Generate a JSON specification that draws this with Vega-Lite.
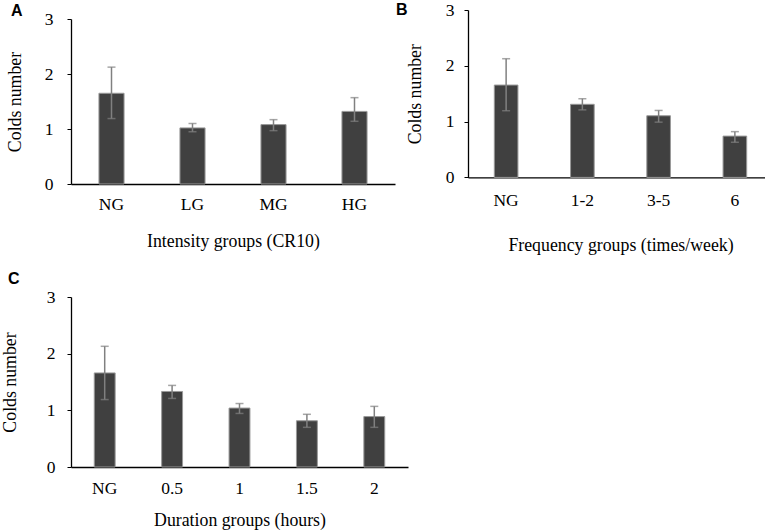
{
  "$schema": "https://vega.github.io/schema/vega-lite/v6.json",
  "padding": {"left": 1, "top": 1, "right": 0, "bottom": 0},
  "background": "white",
  "datasets": {
    "intensity": [
      {"group": "NG", "mean": 1.65, "lo": 1.19, "hi": 2.125},
      {"group": "LG", "mean": 1.02, "lo": 0.95, "hi": 1.1},
      {"group": "MG", "mean": 1.08, "lo": 0.97, "hi": 1.17},
      {"group": "HG", "mean": 1.32, "lo": 1.14, "hi": 1.57}
    ],
    "frequency": [
      {"group": "NG", "mean": 1.655, "lo": 1.195, "hi": 2.127},
      {"group": "1-2", "mean": 1.31, "lo": 1.21, "hi": 1.41},
      {"group": "3-5", "mean": 1.105, "lo": 0.99, "hi": 1.2},
      {"group": "6", "mean": 0.74, "lo": 0.63, "hi": 0.82}
    ],
    "duration": [
      {"group": "NG", "mean": 1.66, "lo": 1.19, "hi": 2.13},
      {"group": "0.5", "mean": 1.333, "lo": 1.21, "hi": 1.44},
      {"group": "1", "mean": 1.04, "lo": 0.945, "hi": 1.12},
      {"group": "1.5", "mean": 0.816, "lo": 0.7, "hi": 0.93},
      {"group": "2", "mean": 0.89, "lo": 0.7, "hi": 1.07}
    ]
  },
  "spacing": -12,
  "hconcat": [
    {
      "spacing": -12,
      "vconcat": [
        {
          "title": {"text": "A", "dx": -60, "offset": -8.5},
          "width": 1,
          "height": 1,
          "data": {"values": []},
          "mark": "rule",
          "encoding": {}
        },
        {
          "spacing": 19,
          "vconcat": [
            {
              "width": 324,
              "height": 165,
              "data": {"name": "intensity"},
              "layer": [
                {
                  "mark": {"type": "bar", "fill": "#404040", "stroke": "#999999", "strokeWidth": 1},
                  "encoding": {
                    "x": {"field": "group", "type": "nominal", "sort": null,
                      "scale": {"paddingInner": 0.69, "paddingOuter": 0.345},
                      "axis": {"title": "Intensity groups (CR10)", "labelPadding": 11, "titlePadding": 20}},
                    "y": {"field": "mean", "type": "quantitative",
                      "scale": {"domain": [0, 3], "nice": false},
                      "axis": {"title": "Colds number", "values": [0, 1, 2, 3], "format": "d", "labelPadding": 14, "titlePadding": 20}}
                  }
                },
                {
                  "mark": {"type": "errorbar", "color": "#808080", "thickness": 1.5, "ticks": {"size": 8, "thickness": 1.5}},
                  "encoding": {
                    "x": {"field": "group", "type": "nominal", "sort": null},
                    "y": {"field": "lo", "type": "quantitative", "title": "Colds number"},
                    "y2": {"field": "hi"}
                  }
                }
              ]
            },
            {
              "title": {"text": "C", "dx": -63, "offset": 1.3},
              "width": 337,
              "height": 170,
              "data": {"name": "duration"},
              "layer": [
                {
                  "mark": {"type": "bar", "fill": "#404040", "stroke": "#999999", "strokeWidth": 1},
                  "encoding": {
                    "x": {"field": "group", "type": "nominal", "sort": null,
                      "scale": {"paddingInner": 0.69, "paddingOuter": 0.345},
                      "axis": {"title": "Duration groups (hours)", "labelPadding": 12, "titlePadding": 15}},
                    "y": {"field": "mean", "type": "quantitative",
                      "scale": {"domain": [0, 3], "nice": false},
                      "axis": {"title": "Colds number", "values": [0, 1, 2, 3], "format": "d", "labelPadding": 12, "titlePadding": 27}}
                  }
                },
                {
                  "mark": {"type": "errorbar", "color": "#808080", "thickness": 1.5, "ticks": {"size": 8, "thickness": 1.5}},
                  "encoding": {
                    "x": {"field": "group", "type": "nominal", "sort": null},
                    "y": {"field": "lo", "type": "quantitative", "title": "Colds number"},
                    "y2": {"field": "hi"}
                  }
                }
              ]
            }
          ]
        }
      ]
    },
    {
      "title": {"text": "B", "dx": -72, "offset": -17},
      "width": 305,
      "height": 167.4,
      "data": {"name": "frequency"},
      "layer": [
        {
          "mark": {"type": "bar", "fill": "#404040", "stroke": "#999999", "strokeWidth": 1},
          "encoding": {
            "x": {"field": "group", "type": "nominal", "sort": null,
              "scale": {"paddingInner": 0.69, "paddingOuter": 0.345},
              "axis": {"title": "Frequency groups (times/week)", "labelPadding": 14, "titlePadding": 28}},
            "y": {"field": "mean", "type": "quantitative",
              "scale": {"domain": [0, 3], "nice": false},
              "axis": {"title": "Colds number", "values": [0, 1, 2, 3], "format": "d", "labelPadding": 10, "titlePadding": 21}}
          }
        },
        {
          "mark": {"type": "errorbar", "color": "#808080", "thickness": 1.5, "ticks": {"size": 8, "thickness": 1.5}},
          "encoding": {
            "x": {"field": "group", "type": "nominal", "sort": null},
            "y": {"field": "lo", "type": "quantitative", "title": "Colds number"},
            "y2": {"field": "hi"}
          }
        }
      ]
    }
  ],
  "config": {
    "view": {"stroke": null},
    "title": {"anchor": "start", "frame": "group", "font": "Liberation Sans", "fontSize": 16, "fontWeight": "bold", "color": "black"},
    "axis": {
      "grid": false,
      "labelFont": "Liberation Serif",
      "titleFont": "Liberation Serif",
      "labelFontSize": 17.5,
      "titleFontSize": 17.8,
      "titleFontWeight": "normal",
      "labelColor": "black",
      "titleColor": "black",
      "domainColor": "black",
      "domainWidth": 1.3,
      "tickColor": "black",
      "tickSize": 4,
      "labelAngle": 0
    },
    "axisX": {"ticks": false},
    "axisY": {"labelBaseline": "middle"}
  }
}
